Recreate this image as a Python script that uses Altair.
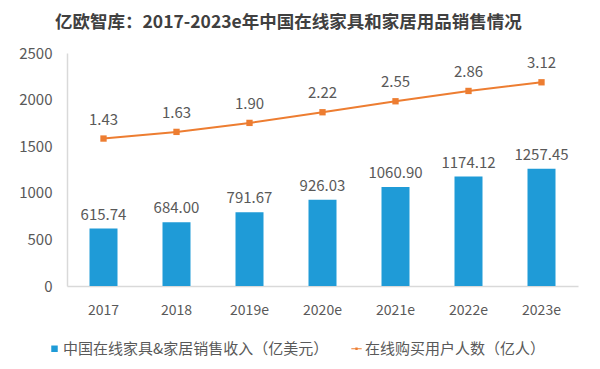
import altair as alt
import pandas as pd

years = ["2017", "2018", "2019e", "2020e", "2021e", "2022e", "2023e"]
revenue = [615.74, 684.00, 791.67, 926.03, 1060.90, 1174.12, 1257.45]
users = [1.43, 1.63, 1.90, 2.22, 2.55, 2.86, 3.12]
s_bar = "中国在线家具&家居销售收入（亿美元）"
s_line = "在线购买用户人数（亿人）"
title = "亿欧智库：2017-2023e年中国在线家具和家居用品销售情况"

FONT = "Noto Sans CJK SC"
BLUE = "#1f9bd7"
ORANGE = "#ed7d31"
GRAY = "#595959"

bar_df = pd.DataFrame({"year": years, "value": revenue, "series": s_bar,
                       "label": [f"{v:.2f}" for v in revenue]})
line_df = pd.DataFrame({"year": years, "value": users, "series": s_line,
                        "label": [f"{v:.2f}" for v in users]})
legend_df = pd.concat([bar_df, line_df], ignore_index=True)

x = alt.X("year:N", sort=years, title=None,
          scale=alt.Scale(paddingInner=0.6, paddingOuter=0.3),
          axis=alt.Axis(labelAngle=0, labelFont=FONT, labelFontSize=14, labelColor=GRAY,
                        labelPadding=17, ticks=False, domainColor="#d9d9d9", domainWidth=1.5))

line_sym = "M-1.6,-0.12L1.6,-0.12L1.6,0.12L-1.6,0.12Z M-0.36,-0.36L0.36,-0.36L0.36,0.36L-0.36,0.36Z"
legend = alt.Legend(title=None, orient="none", legendX=-20, legendY=288,
                    direction="horizontal", labelFont=FONT, labelFontSize=15,
                    labelColor=GRAY, columnPadding=20, symbolSize=42,
                    labelLimit=0, labelOffset=1, symbolOpacity=1, symbolStrokeWidth=0)
color = alt.Color("series:N", scale=alt.Scale(domain=[s_bar, s_line], range=[BLUE, ORANGE]),
                  legend=legend)
shape = alt.Shape("series:N", scale=alt.Scale(domain=[s_bar, s_line], range=["square", line_sym]),
                  legend=legend)

yscale = alt.Scale(domain=[0, 2500])
ybar = alt.Y("value:Q", title=None, scale=yscale,
             axis=alt.Axis(values=[0, 500, 1000, 1500, 2000, 2500], format="d", grid=False,
                           ticks=False, labelFont=FONT, labelFontSize=15, labelColor=GRAY,
                           labelPadding=15, domainColor="#d9d9d9", domainWidth=1.5))
yline = alt.Y("value:Q", title=None, scale=alt.Scale(domain=[-3, 4]), axis=None)

bars = alt.Chart(bar_df).mark_bar(size=28).encode(x=x, y=ybar, color=color)
bar_text = alt.Chart(bar_df).mark_text(baseline="bottom", dy=-6, font=FONT, fontSize=15,
                                       color=GRAY).encode(x=x, y=ybar, text="label:N")
legend_pts = alt.Chart(legend_df).mark_point(filled=True, opacity=0).encode(
    x=x, y=ybar, color=color, shape=shape)
left = alt.layer(bars, bar_text, legend_pts)

line = alt.Chart(line_df).mark_line(strokeWidth=2).encode(x=x, y=yline, color=color)
pts = alt.Chart(line_df).mark_square(size=40, opacity=1, color=ORANGE).encode(x=x, y=yline)
line_text = alt.Chart(line_df).mark_text(baseline="bottom", dy=-11, font=FONT, fontSize=15,
                                         color=GRAY).encode(x=x, y=yline, text="label:N")
right = alt.layer(line, pts, line_text)

chart = alt.layer(left, right).resolve_scale(y="independent").properties(
    width=511, height=233,
    title=alt.TitleParams(title, anchor="start", frame="group", font=FONT, fontSize=17.5,
                          fontWeight="bold", color="#404040", dx=-12, offset=15),
    autosize=alt.AutoSizeParams(type="none"),
    padding={"left": 59, "top": 45, "right": 14, "bottom": 75},
).configure_view(stroke=None)

chart.save("out.html", embed_options={"renderer": "svg", "actions": False})
